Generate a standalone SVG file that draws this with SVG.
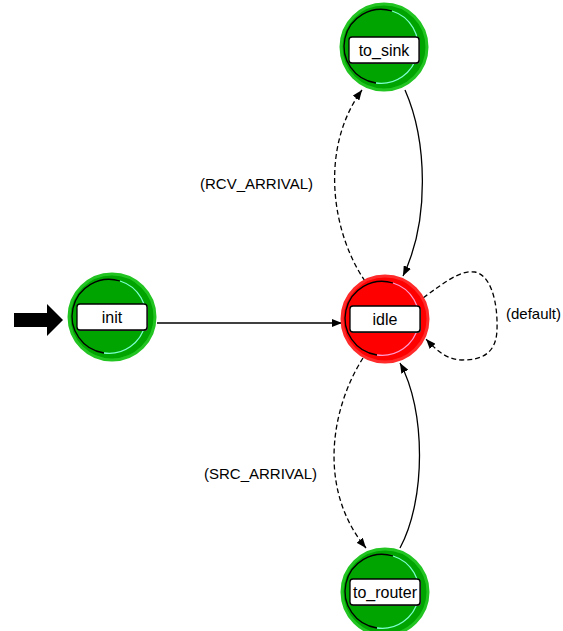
<svg xmlns="http://www.w3.org/2000/svg" width="563" height="631" viewBox="0 0 563 631">
  <defs>
    <marker id="tip" viewBox="0 0 10 8" refX="10" refY="4" markerWidth="10" markerHeight="8" markerUnits="userSpaceOnUse" orient="auto">
      <path d="M0,0 L10,4 L0,8 Z" fill="#000"/>
    </marker>
    <!-- state disc with bevel arcs, drawn around the origin -->
    <g id="green-state">
      <circle r="43" fill="#00A400" stroke="#22C422" stroke-width="3"/>
      <path d="M8,-36 A37,37 0 1 0 -8,36" fill="none" stroke="#000" stroke-width="1.3"/>
      <path d="M8,-36 A37,37 0 0 1 -8,36" fill="none" stroke="#7CFFD0" stroke-width="1.3"/>
    </g>
    <g id="red-state">
      <circle r="43" fill="#FF0000" stroke="#FF2A2A" stroke-width="3"/>
      <path d="M8,-36 A37,37 0 1 0 -8,36" fill="none" stroke="#000" stroke-width="1.3"/>
      <path d="M8,-36 A37,37 0 0 1 -8,36" fill="none" stroke="#FF9AD0" stroke-width="1.3"/>
    </g>
  </defs>
  <style>
    .lbl-box { fill: #fff; stroke: #000; stroke-width: 1.3; }
    .lbl-shadow { fill: #555; }
    .lbl { font-family: "Liberation Sans", Arial, sans-serif; font-size: 16px; fill: #000; text-anchor: middle; }
    .cond { font-family: "Liberation Sans", Arial, sans-serif; font-size: 15px; fill: #000; }
    .solid { fill: none; stroke: #000; stroke-width: 1.3; marker-end: url(#tip); }
    .dashed { fill: none; stroke: #000; stroke-width: 1.3; stroke-dasharray: 5 3; marker-end: url(#tip); }
  </style>
  <rect width="563" height="631" fill="#fff"/>

  <!-- transitions -->
  <g id="connectors">
    <path class="solid" d="M157,323 L342,323"/>
    <path class="dashed" d="M365,281 C333,235 318,150 362,90"/>
    <path class="solid" d="M405,90 C427,140 430,220 403,276"/>
    <path class="dashed" d="M363,358 C330,410 318,490 366,548"/>
    <path class="solid" d="M400,548 C426,500 426,410 400,363"/>
    <path class="dashed" d="M423,298 C445,282 460,270 475,272 C490,275 498,300 497,330 C496,355 480,360 462,360 C447,360 436,350 426,339"/>
    <text class="cond" x="200" y="189">(RCV_ARRIVAL)</text>
    <text class="cond" x="204" y="479">(SRC_ARRIVAL)</text>
    <text class="cond" x="506" y="319">(default)</text>
  </g>

  <!-- initial-state arrow -->
  <g id="start-arrow">
    <path d="M14,313 L47,313 L47,304 L63,320 L47,336 L47,327 L14,327 Z" fill="#000"/>
  </g>

  <g id="init">
    <use href="#green-state" x="112" y="317"/>
    <rect class="lbl-shadow" x="78" y="305" width="70" height="26" rx="3"/>
    <rect class="lbl-box" x="77" y="304" width="70" height="26" rx="3"/>
    <text class="lbl" x="112" y="323">init</text>
  </g>

  <g id="idle">
    <use href="#red-state" x="385" y="319"/>
    <rect class="lbl-shadow" x="351" y="307" width="70" height="26" rx="3"/>
    <rect class="lbl-box" x="350" y="306" width="70" height="26" rx="3"/>
    <text class="lbl" x="385" y="325">idle</text>
  </g>

  <g id="to_sink">
    <use href="#green-state" x="384" y="47"/>
    <rect class="lbl-shadow" x="350" y="38" width="70" height="26" rx="3"/>
    <rect class="lbl-box" x="349" y="37" width="70" height="26" rx="3"/>
    <text class="lbl" x="384" y="56">to_sink</text>
  </g>

  <g id="to_router">
    <use href="#green-state" x="385" y="592"/>
    <rect class="lbl-shadow" x="351" y="580" width="70" height="26" rx="3"/>
    <rect class="lbl-box" x="350" y="579" width="70" height="26" rx="3"/>
    <text class="lbl" x="385" y="598">to_router</text>
  </g>
</svg>
